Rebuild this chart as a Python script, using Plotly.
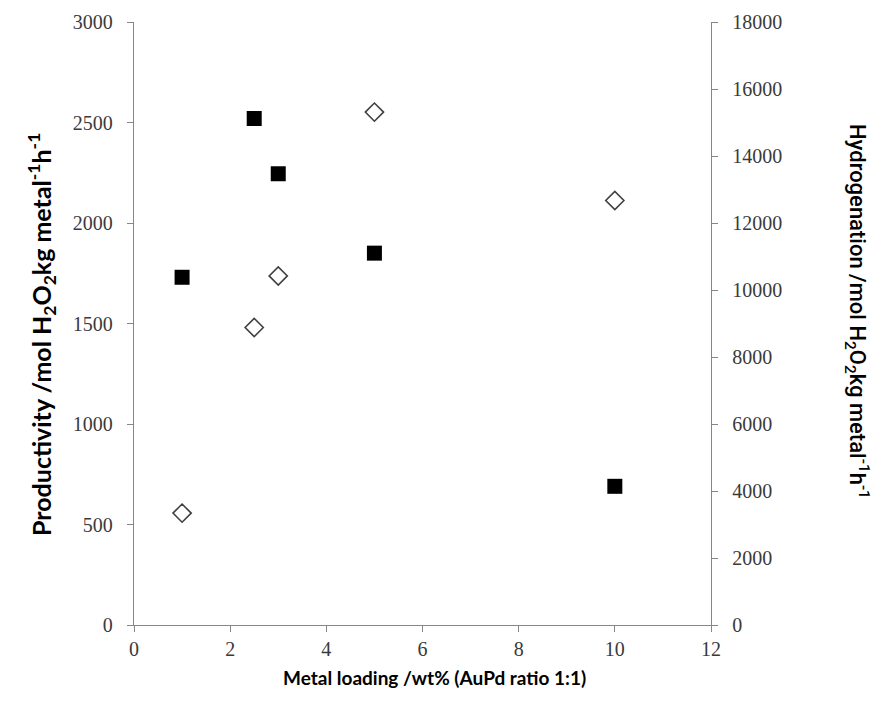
import plotly.graph_objects as go

loading = [1, 2.5, 3, 5, 10]
productivity = [1730, 2520, 2245, 1850, 690]
hydro_loading = [1, 2.5, 3, 5, 10]
hydrogenation = [3340, 8880, 10420, 15310, 12670]

x_ticks = [0, 2, 4, 6, 8, 10, 12]
left_ticks = [0, 500, 1000, 1500, 2000, 2500, 3000]
right_ticks = [0, 2000, 4000, 6000, 8000, 10000, 12000, 14000, 16000, 18000]

axis_col = "#878787"
tick_font = dict(family="Liberation Serif", size=20, color="#3a3a3a")

fig = go.Figure()
fig.add_trace(go.Scatter(
    x=loading, y=productivity, mode="markers", yaxis="y",
    marker=dict(symbol="square", size=15, color="#000000", line=dict(width=0)),
    showlegend=False))
fig.add_trace(go.Scatter(
    x=hydro_loading, y=hydrogenation, mode="markers", yaxis="y2",
    marker=dict(symbol="diamond", size=14, color="#ffffff",
                line=dict(width=1.6, color="#404040")),
    showlegend=False))

fig.update_layout(
    width=885, height=717,
    margin=dict(l=134, r=174, t=22, b=92),
    paper_bgcolor="white", plot_bgcolor="white",
    xaxis=dict(range=[0, 12], tickvals=x_ticks, ticktext=[str(v) for v in x_ticks],
               showgrid=False, zeroline=False,
               showline=True, linecolor=axis_col, linewidth=1.3,
               ticks="outside", ticklen=6, tickcolor=axis_col, tickfont=tick_font,
               ticklabelstandoff=0),
    yaxis=dict(range=[0, 3000], tickvals=left_ticks, ticktext=[str(v) for v in left_ticks],
               showgrid=False, zeroline=False,
               showline=True, linecolor=axis_col, linewidth=1.3,
               ticks="outside", ticklen=6, tickcolor=axis_col, tickfont=tick_font,
               ticklabelstandoff=10),
    yaxis2=dict(range=[0, 18000], tickvals=right_ticks, ticktext=[str(v) for v in right_ticks],
                overlaying="y", side="right",
                showgrid=False, zeroline=False, anchor="x",
                showline=True, linecolor=axis_col, linewidth=1.3,
                ticks="outside", ticklen=6, tickcolor=axis_col, tickfont=tick_font,
                ticklabelstandoff=10),
)

fig.add_annotation(
    text="<b>Productivity /mol H<sub>2</sub>O<sub>2</sub>kg metal<sup>-1</sup>h<sup>-1</sup></b>",
    xref="paper", yref="paper", x=(41 - 134) / 577, y=(625 - 335) / 603,
    xanchor="center", yanchor="middle",
    textangle=-90, showarrow=False, font=dict(family="Lato", size=25, color="#000000"))
fig.add_annotation(
    text="Hydrogenation /mol H<sub>2</sub>O<sub>2</sub>kg metal<sup>-1</sup>h<sup>-1</sup>",
    xref="paper", yref="paper", x=(857 - 134) / 577, y=(625 - 311) / 603,
    xanchor="center", yanchor="middle",
    textangle=90, showarrow=False,
    font=dict(family="Roboto", size=22, color="#000000", weight=500))
fig.add_annotation(
    text="<b>Metal loading /wt% (AuPd ratio 1:1)</b>",
    xref="paper", yref="paper", x=(434 - 134) / 577, y=(625 - 677) / 603,
    xanchor="center", yanchor="middle",
    showarrow=False, font=dict(family="Lato", size=19, color="#000000"))

fig.write_html("out.html")
